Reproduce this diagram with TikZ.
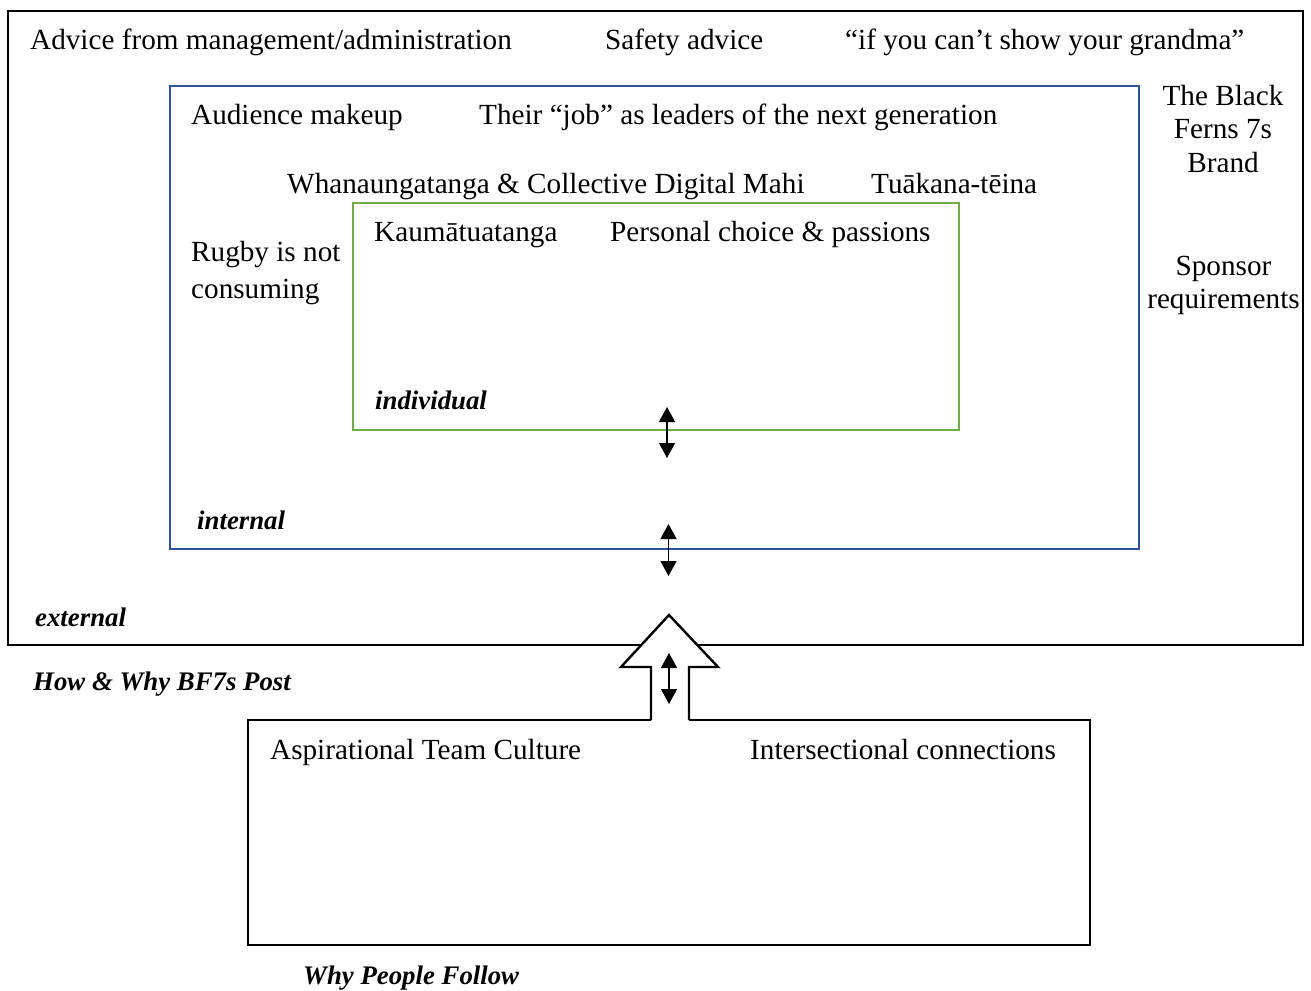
\documentclass[tikz,border=0pt]{standalone}
\usepackage{fontspec}
\setmainfont{Liberation Serif}
\usetikzlibrary{arrows.meta}
\definecolor{frameblue}{RGB}{47,85,151}
\definecolor{framegreen}{RGB}{112,173,71}

\begin{document}
\begin{tikzpicture}[x=1pt,y=-1pt,
  body/.style={inner sep=0pt, anchor=base west, font=\fontsize{29.2}{33.5}\selectfont},
  bodyc/.style={inner sep=0pt, anchor=base, align=center, font=\fontsize{29.2}{33.5}\selectfont},
  tag/.style={inner sep=0pt, anchor=base west, font=\fontsize{26.8}{30}\selectfont\bfseries\itshape},
  outerframe/.style={draw=black, line width=2.4pt},
  midframe/.style={draw=frameblue, line width=2pt},
  innerframe/.style={draw=framegreen, line width=2.4pt},
  twoway/.style={{Triangle[length=15pt,width=16pt]}-{Triangle[length=15pt,width=16pt]}, line width=1.2pt},
  bigarrow/.style={draw=black, line width=2.4pt, line join=miter}]
\useasboundingbox (0,0) rectangle (1311,990);

% nested frames: external, internal, individual
\draw[outerframe] (8,11) rectangle (1303,645);
\draw[midframe] (170,86) rectangle (1139,549);
\draw[innerframe] (353,203) rectangle (959,430);

% lower frame, open where the block arrow leaves it
\draw[outerframe] (651,720) -- (248,720) -- (248,945) -- (1090,945) -- (1090,720) -- (689,720);

% block arrow pointing up into the external frame
\fill[white] (651,722) -- (651,667) -- (621,667) -- (669,615) -- (718,667) -- (689,667) -- (689,722) -- cycle;
\draw[bigarrow] (651,720) -- (651,667) -- (621,667) -- (669,615) -- (718,667) -- (689,667) -- (689,720);

% external (multi-line nodes are placed by the baseline of their last line)
\node[body] (mgmt) at (30,49) {Advice from management/administration};
\node[body] (safety) at (605,49) {Safety advice};
\node[body] (grandma) at (845,49) {“if you can’t show your grandma”};
\node[bodyc] (brand) at (1223,172) {The Black\\Ferns 7s\\Brand};
\node[bodyc] (sponsor) at (1223.5,308) {Sponsor\\[-0.5pt]requirements};
\node[tag] (external) at (35,626) {external};

% internal
\node[body] (audience) at (191,124) {Audience makeup};
\node[body] (job) at (479,124) {Their “job” as leaders of the next generation};
\node[body] (whanau) at (287,193) {Whanaungatanga \& Collective Digital Mahi};
\node[body] (tuakana) at (871,193) {Tuākana-tēina};
\node[body, align=left] (rugby) at (191,298) {Rugby is not\\[3.5pt]consuming};
\node[tag] (internal) at (197,529) {internal};

% individual
\node[body] (kaumatua) at (374,241) {Kaumātuatanga};
\node[body] (personal) at (610,241) {Personal choice \& passions};
\node[tag] (individual) at (375,409) {individual};

% captions and lower frame
\node[tag] (howwhy) at (33,690) {How \& Why BF7s Post};
\node[body] (aspire) at (270,759) {Aspirational Team Culture};
\node[body] (intersect) at (750,759) {Intersectional connections};
\node[tag] (whyfollow) at (303,984) {Why People Follow};

% two-way links across the frame borders
\coordinate (indTop) at (667,407);
\coordinate (indBot) at (667,458);
\coordinate (intTop) at (668.5,524);
\coordinate (intBot) at (668.5,576);
\coordinate (extTop) at (669,653);
\coordinate (extBot) at (669,704);
\draw[twoway] (indTop) -- (indBot);
\draw[twoway] (intTop) -- (intBot);
\draw[twoway] (extTop) -- (extBot);
\end{tikzpicture}
\end{document}
